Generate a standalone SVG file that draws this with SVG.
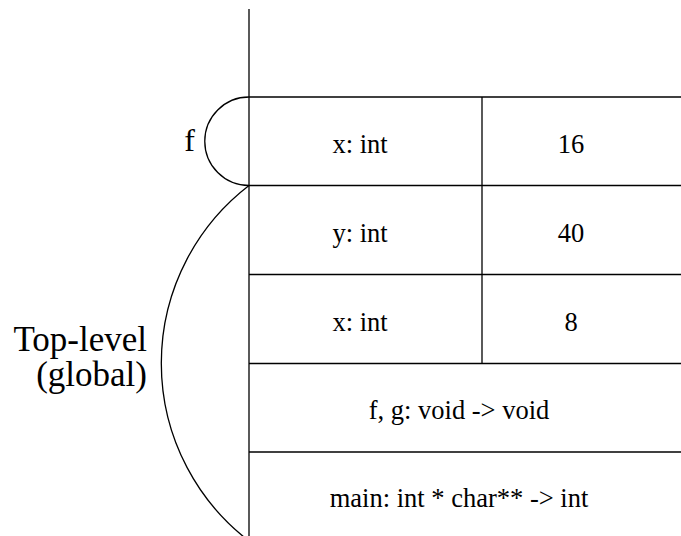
<svg xmlns="http://www.w3.org/2000/svg" width="681" height="536" viewBox="0 0 681 536">
<style>
  .ln { stroke: #000; stroke-width: 1.3; fill: none; }
  .cell { font-family: "Liberation Serif", "Times New Roman", serif; font-size: 26.5px; fill: #000; text-anchor: middle; }
  .lbl { font-family: "Liberation Serif", "Times New Roman", serif; font-size: 35px; fill: #000; text-anchor: end; }
</style>
<rect width="681" height="536" fill="#fff"/>
<g id="frame">
  <line class="ln" x1="249" y1="9" x2="249" y2="536"/>
  <line class="ln" x1="249" y1="97" x2="681" y2="97"/>
  <line class="ln" x1="249" y1="185.5" x2="681" y2="185.5"/>
  <line class="ln" x1="249" y1="274.5" x2="681" y2="274.5"/>
  <line class="ln" x1="249" y1="363.5" x2="681" y2="363.5"/>
  <line class="ln" x1="249" y1="452" x2="681" y2="452"/>
  <line class="ln" x1="482" y1="97" x2="482" y2="363.5"/>
</g>
<g id="row-f-x">
  <text class="cell" x="360" y="153">x: int</text>
  <text class="cell" x="571" y="153">16</text>
</g>
<g id="row-y">
  <text class="cell" x="360" y="242">y: int</text>
  <text class="cell" x="571" y="242">40</text>
</g>
<g id="row-x">
  <text class="cell" x="360" y="331">x: int</text>
  <text class="cell" x="571" y="331">8</text>
</g>
<g id="row-fg">
  <text class="cell" x="459" y="418.5">f, g: void -&gt; void</text>
</g>
<g id="row-main">
  <text class="cell" x="459" y="507">main: int * char** -&gt; int</text>
</g>
<g id="scope-f">
  <path class="ln" d="M249,97 A44,44 0 0 0 249,185.5"/>
  <text class="lbl" x="195" y="151" style="font-size:32px">f</text>
</g>
<g id="scope-global">
  <path class="ln" d="M249,185.5 A224,224 0 0 0 249,541"/>
  <text class="lbl" x="147" y="351">Top-level</text>
  <text class="lbl" x="147" y="386">(global)</text>
</g>
</svg>
